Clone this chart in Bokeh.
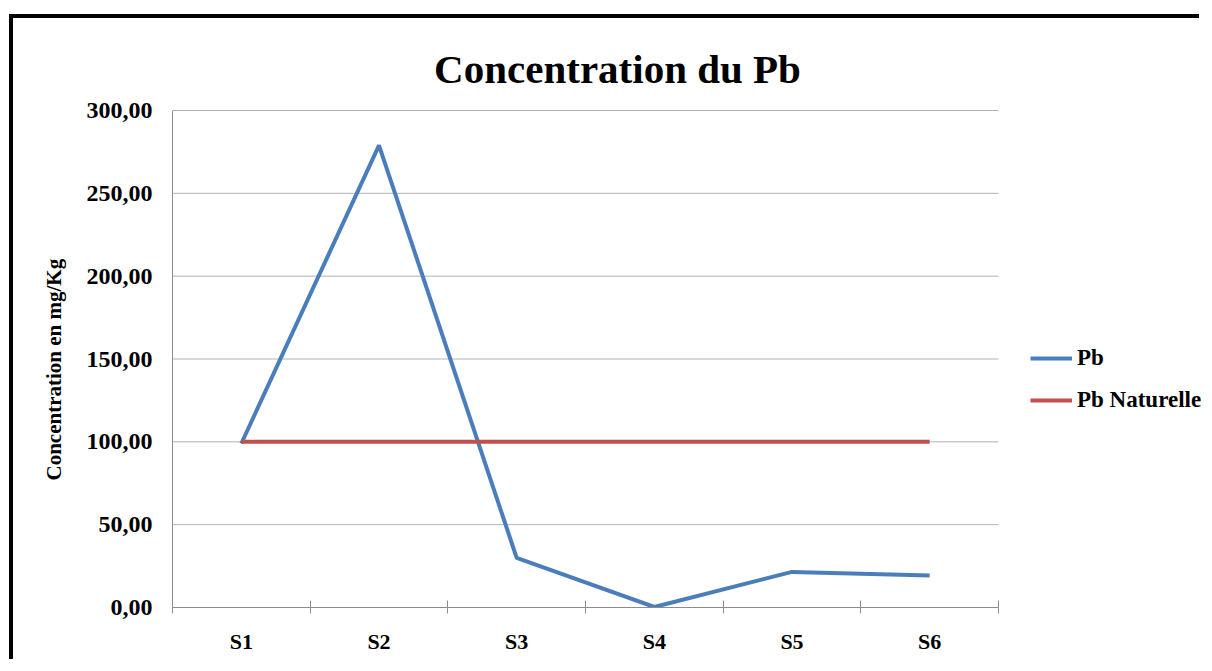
from bokeh.plotting import figure
from bokeh.models import FixedTicker, Legend, LegendItem, Range1d, Label, Title
from bokeh.embed import file_html
from bokeh.resources import INLINE

categories = ["S1", "S2", "S3", "S4", "S5", "S6"]
pb = [99.0, 279.0, 30.0, 0.3, 21.5, 19.3]
pb_naturelle = [100.0, 100.0, 100.0, 100.0, 100.0, 100.0]
y_ticks = [0, 50, 100, 150, 200, 250, 300]
y_tick_labels = ["0,00", "50,00", "100,00", "150,00", "200,00", "250,00", "300,00"]
title_text = "Concentration du Pb"
y_label_text = "Concentration en mg/Kg"

FONT = "Liberation Serif"
n = len(categories)
xs = list(range(1, n + 1))

# layout in page pixels
ORIG_X, ORIG_Y = 13, 18           # canvas origin on the page (after the black frame)
W, H = 1190, 645
PL, PR, PT, PB = 172, 998, 110, 607   # category / value area
Y_MAX = 300
px_x = (PR - PL) / n
px_y = (PB - PT) / Y_MAX
def dx(page_x):
    return 0.5 + (page_x - PL) / px_x
def dy(page_y):
    return (PB - page_y) / px_y

LEFT = PL - ORIG_X
BOTTOM = ORIG_Y + H - PB

p = figure(width=W, height=H, output_backend="svg", toolbar_location=None,
           x_range=Range1d(0.5, dx(ORIG_X + W)), y_range=Range1d(0, dy(ORIG_Y)),
           min_border_left=LEFT, min_border_right=0, min_border_top=0, min_border_bottom=BOTTOM)
p.styles = {"border-top": "4px solid black", "border-left": "4px solid black",
            "margin-top": "14px", "margin-left": "9px"}
p.background_fill_color = "white"
p.border_fill_color = "white"
p.outline_line_color = None

# title
p.add_layout(Label(x=dx(617), y=dy(68), text=title_text, text_align="center",
                   text_baseline="alphabetic", text_font=FONT, text_font_style="bold",
                   text_font_size="41px", text_color="black"))

# horizontal grid lines limited to the category area
p.xgrid.grid_line_color = None
p.ygrid.grid_line_color = None
p.segment(x0=[0.5] * len(y_ticks), x1=[n + 0.5] * len(y_ticks), y0=y_ticks, y1=y_ticks,
          line_color="#b3b3b3", line_width=1)

r1 = p.line(xs, pb, line_color="#4A7EBB", line_width=4)
r2 = p.line(xs, pb_naturelle, line_color="#C0504D", line_width=4)

# x axis
p.xaxis.bounds = (0.5, n + 0.5)
p.xaxis.ticker = FixedTicker(ticks=xs, minor_ticks=[x - 0.5 for x in xs] + [n + 0.5])
p.xaxis.major_label_overrides = {x: c for x, c in zip(xs, categories)}
p.xaxis.major_tick_line_color = None
p.xaxis.major_tick_in = 0
p.xaxis.major_tick_out = 0
p.xaxis.minor_tick_line_color = "#8c8c8c"
p.xaxis.minor_tick_in = 7
p.xaxis.minor_tick_out = 6
p.xaxis.axis_line_color = "#8c8c8c"
p.xaxis.major_label_standoff = 15
p.xaxis.major_label_text_font = FONT
p.xaxis.major_label_text_font_style = "bold"
p.xaxis.major_label_text_font_size = "22px"
p.xaxis.major_label_text_color = "black"

# y axis
p.yaxis.bounds = (0, Y_MAX)
p.yaxis.ticker = FixedTicker(ticks=y_ticks, minor_ticks=[])
p.yaxis.major_label_overrides = {t: l for t, l in zip(y_ticks, y_tick_labels)}
p.yaxis.major_tick_line_color = None
p.yaxis.major_tick_in = 0
p.yaxis.major_tick_out = 0
p.yaxis.minor_tick_line_color = None
p.yaxis.axis_line_color = "#8c8c8c"
p.yaxis.major_label_standoff = 20
p.yaxis.major_label_text_font = FONT
p.yaxis.major_label_text_font_style = "bold"
p.yaxis.major_label_text_font_size = "24px"
p.yaxis.major_label_text_color = "black"

# y axis label (as a side title so it can be placed along the axis)
p.add_layout(Title(text=y_label_text, align="left", offset=PB - 480, standoff=36,
                   text_font=FONT, text_font_style="bold", text_font_size="21px",
                   text_color="black"), "left")

legend = Legend(items=[LegendItem(label="Pb", renderers=[r1]),
                       LegendItem(label="Pb Naturelle", renderers=[r2])],
                location=(1030 - PL, PB - 413))
legend.padding = 0
legend.margin = 0
legend.spacing = 16
legend.glyph_width = 42
legend.glyph_height = 20
legend.label_height = 20
legend.label_standoff = 5
legend.border_line_color = None
legend.background_fill_alpha = 0
legend.label_text_font = FONT
legend.label_text_font_style = "bold"
legend.label_text_font_size = "23px"
legend.label_text_color = "black"
p.add_layout(legend, "center")

open("out.html", "w").write(file_html(p, INLINE))
